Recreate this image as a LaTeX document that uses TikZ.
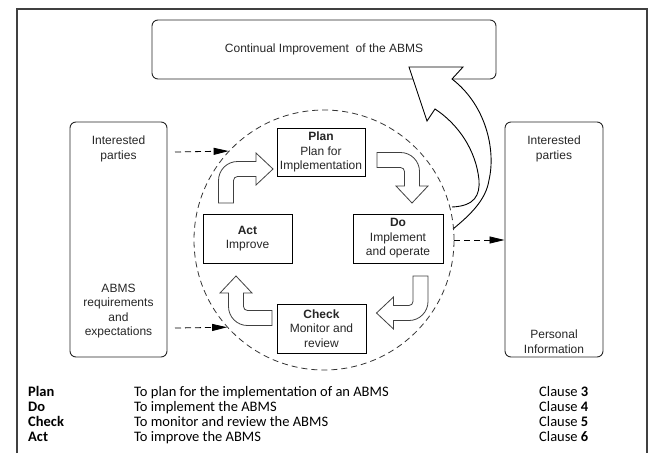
\documentclass[tikz,border=0pt]{standalone}
\usepackage{fontspec}
\setmainfont{Liberation Sans}
\newfontfamily\tabfont{Carlito}
\usetikzlibrary{arrows.meta}
\newcommand\bentarrow[6]{% x, y, rotation, A (first leg), B (second leg to head base), name
  \begin{scope}[shift={(#1,#2)}, rotate=#3]
    \pgfmathsetmacro\baW{7.5}
    \pgfmathsetmacro\baRi{4}
    \pgfmathsetmacro\baH{16}
    \pgfmathsetmacro\baL{17}
    \pgfmathsetmacro\baK{0.5523}
    \pgfmathsetmacro\baA{#4}
    \pgfmathsetmacro\baB{#5}
    \pgfmathsetmacro\baCx{\baW+\baRi}
    \pgfmathsetmacro\baCy{-\baA+\baW+\baRi}
    \pgfmathsetmacro\baRo{\baRi+2*\baW}
    \pgfmathsetmacro\baOa{\baCy-\baK*\baRo}
    \pgfmathsetmacro\baOb{\baCx-\baK*\baRo}
    \pgfmathsetmacro\baTop{-\baA-\baW}
    \pgfmathsetmacro\baBot{-\baA+\baW}
    \pgfmathsetmacro\baHt{-\baA-\baH}
    \pgfmathsetmacro\baHb{-\baA+\baH}
    \pgfmathsetmacro\baTip{\baB+\baL}
    \pgfmathsetmacro\baIa{\baCx-\baK*\baRi}
    \pgfmathsetmacro\baIb{\baCy-\baK*\baRi}
    \pgfmathsetmacro\baNW{-\baW}
    \pgfmathsetmacro\baNA{-\baA}
    \draw[blockarrow] (\baNW,0) -- (\baNW,\baCy)
      .. controls (\baNW,\baOa) and (\baOb,\baTop) .. (\baCx,\baTop)
      -- (\baB,\baTop) -- (\baB,\baHt) -- (\baTip,\baNA) -- (\baB,\baHb)
      -- (\baB,\baBot) -- (\baCx,\baBot)
      .. controls (\baIa,\baBot) and (\baW,\baIb) .. (\baW,\baCy)
      -- (\baW,0) -- cycle;
    \coordinate (#6) at (\baTip,\baNA);
  \end{scope}}
\begin{document}
\begin{tikzpicture}[x=1pt,y=-1pt,
  rbox/.style={draw=black!85, line width=0.9pt, rounded corners=6pt, minimum width=#1, inner sep=0pt},
  pbox/.style={draw=black, line width=0.9pt, fill=white, align=center, inner sep=0pt,
     font=\fontsize{12}{14.5}\selectfont, text=black!85},
  blockarrow/.style={draw=black!75, line width=0.8pt, fill=white, line join=miter},
  bigarr/.style={draw=black, line width=0.9pt, line join=miter, fill=white},
  dasharrow/.style={line width=0.8pt, dash pattern=on 6pt off 4pt,
     -{Triangle[length=15pt,width=7pt]}},
  txt/.style={font=\fontsize{12}{14.5}\selectfont, align=center, text=black!85, inner sep=0pt},
  tab/.style={font=\tabfont\fontsize{14.5}{15}\selectfont, anchor=base west, inner sep=0pt}
]
\useasboundingbox (0,0) rectangle (650,453);

% outer frame
\draw[line width=1.3pt, black!75] (17,453) -- (17,9) -- (647,9) -- (647,453);

% top box
\node[rbox=344pt, minimum height=59pt] (top) at (324,49.5) {};
\node[txt] (toptxt) at (top.center) {Continual Improvement\ \ of the ABMS};

% side boxes
\node[rbox=97pt, minimum height=235pt] (lbox) at (118.5,239.5) {};
\node[rbox=98pt, minimum height=235pt] (rbox) at (554,239.5) {};
\node[txt] (l1) at (118.5,149) {Interested\\parties};
\node[txt] (l2) at (118.5,311) {ABMS\\requirements\\and\\expectations};
\node[txt] (r1) at (554,149) {Interested\\parties};
\node[txt] (r2) at (554,341.5) {Personal\\Information};

% big curved arrow to the top box (drawn over the top box's bottom edge)
\draw[bigarr] (453,229) .. controls (470,215) and (486,200) .. (489,180)
  .. controls (496,150) and (486,105) .. (452,79) -- (463,67) -- (409,67)
  -- (427,121) -- (435,109)
  .. controls (458,124) and (476,150) .. (479,180)
  .. controls (480,195) and (475,206) .. (452,207);

% dashed circle
\node[draw=black!80, line width=0.8pt, dash pattern=on 6pt off 4pt, circle,
      minimum size=260pt, inner sep=0pt] (circ) at (324,240) {};

% PDCA boxes
\node[pbox, minimum width=88pt, minimum height=48pt] (plan) at (321,152)
  {\textbf{Plan}\\Plan for\\Implementation};
\node[pbox, minimum width=90pt, minimum height=49pt] (do) at (398,238.5)
  {\textbf{Do}\\Implement\\and operate};
\node[pbox, minimum width=89pt, minimum height=49pt] (act) at (247.5,238.5)
  {\textbf{Act}\\Improve};
\node[pbox, minimum width=89pt, minimum height=49pt] (check) at (321.5,328.5)
  {\textbf{Check}\\Monitor and\\review};

% bent block arrows
\bentarrow{226}{203}{0}{34}{30}{tipA}
\bentarrow{377}{160}{-90}{35}{26}{tipB}
\bentarrow{420.5}{276}{180}{37}{27}{tipC}
\bentarrow{272}{318}{90}{36}{25}{tipD}

% dashed arrows
\coordinate (la1) at (175,152);
\coordinate (la2) at (175,328);
\draw[dasharrow] (la1) -- (circ.137.4);
\draw[dasharrow] (la2) -- (circ.222.6);
\draw[dasharrow] (circ.0.9) -- (rbox.west |- circ.0.9);

% table
\node[tab] (t1a) at (28,396) {\textbf{Plan}};
\node[tab] (t1b) at (134,396) {To plan for the implementation of an ABMS};
\node[tab] (t1c) at (539,396) {Clause \textbf{3}};
\node[tab] (t2a) at (28,411) {\textbf{Do}};
\node[tab] (t2b) at (134,411) {To implement the ABMS};
\node[tab] (t2c) at (539,411) {Clause \textbf{4}};
\node[tab] (t3a) at (28,426) {\textbf{Check}};
\node[tab] (t3b) at (134,426) {To monitor and review the ABMS};
\node[tab] (t3c) at (539,426) {Clause \textbf{5}};
\node[tab] (t4a) at (28,441) {\textbf{Act}};
\node[tab] (t4b) at (134,441) {To improve the ABMS};
\node[tab] (t4c) at (539,441) {Clause \textbf{6}};
\end{tikzpicture}
\end{document}
